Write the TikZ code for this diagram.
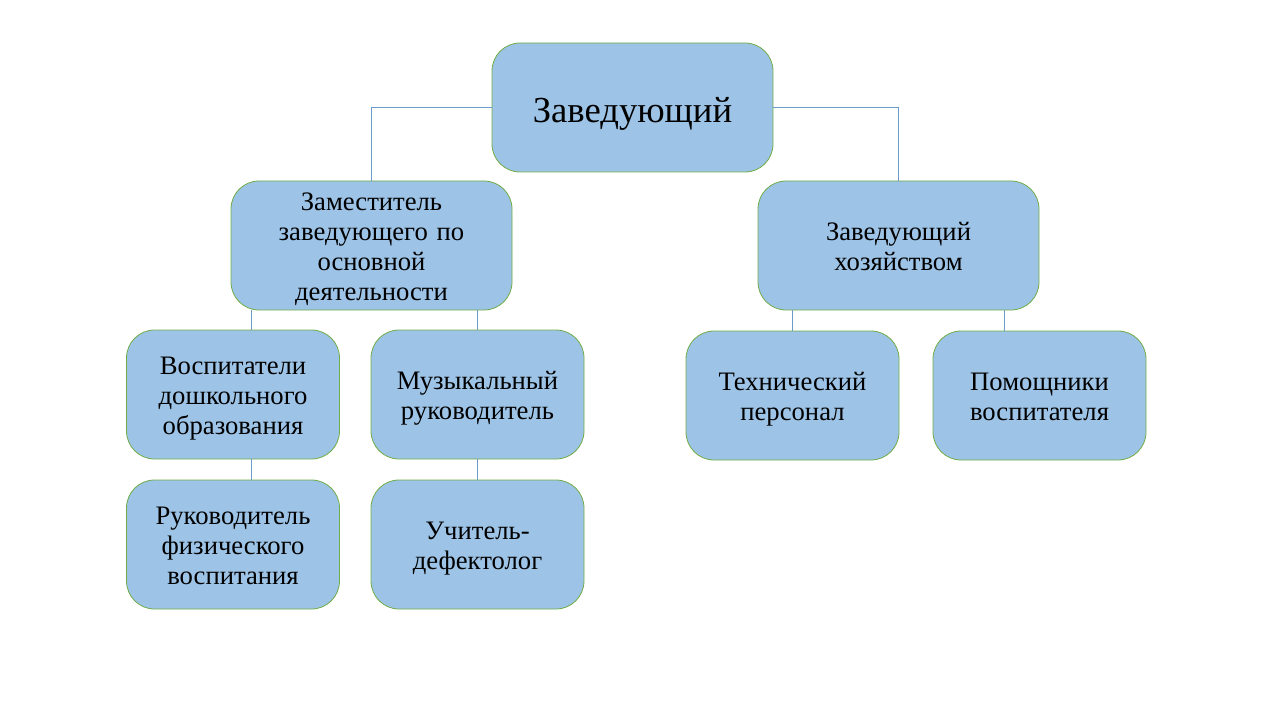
\documentclass[tikz,border=0pt]{standalone}
\usepackage{fontspec}
\setmainfont{Liberation Serif}
\usetikzlibrary{calc}

\definecolor{boxfill}{HTML}{9DC3E6}
\definecolor{boxline}{HTML}{70AD47}
\definecolor{linkline}{HTML}{6A9BCB}

% Одинаковая высота строк в блоках
\newcommand{\lstrut}{\rule[-4.85pt]{0pt}{22.5pt}}
\newcommand{\fstrut}{\rule[-4.85pt]{0pt}{24.4pt}}
\newcommand{\hstrut}{\rule[-6.1pt]{0pt}{35pt}}

\begin{document}
\begin{tikzpicture}[x=0.75pt, y=-0.75pt,
    box/.style={draw=boxline, fill=boxfill, rounded corners=21pt, line width=0.6pt,
        align=center, font=\fontsize{20}{22.5}\selectfont, inner sep=0pt},
    widebox/.style={box, minimum width=210.75pt, minimum height=96.75pt, text width=190pt},
    smallbox/.style={box, minimum width=159.75pt, minimum height=96.75pt, text width=150pt},
    link/.style={draw=linkline, line width=0.6pt}]

    % Поля картинки
    \useasboundingbox (0, 0) rectangle (1280, 720);

    % Верхний уровень
    \node[widebox, font=\fontsize{27.5}{33}\selectfont] (head) at (632.5, 107.5) {Заведующий\hstrut};

    % Второй уровень
    \node[widebox] (deputy) at (371.5, 245.5) {Заместитель\fstrut\\заведующего по\lstrut\\основной\lstrut\\деятельности\lstrut};
    \node[widebox] (house) at (898.5, 245.5) {Заведующий\fstrut\\хозяйством\lstrut};

    % Третий уровень
    \node[smallbox] (tutors) at (233, 394.5) {Воспитатели\fstrut\\дошкольного\lstrut\\образования\lstrut};
    \node[smallbox] (music) at (477.5, 394.5) {Музыкальный\fstrut\\руководитель\lstrut};
    \node[smallbox] (tech) at (792.5, 395.5) {Технический\fstrut\\персонал\lstrut};
    \node[smallbox] (helpers) at (1039.5, 395.5) {Помощники\fstrut\\воспитателя\lstrut};

    % Четвёртый уровень
    \node[smallbox] (sport) at (233, 544.5) {Руководитель\fstrut\\физического\lstrut\\воспитания\lstrut};
    \node[smallbox] (defect) at (477.5, 544.5) {Учитель-\fstrut\\дефектолог\lstrut};

    % Связи
    \draw[link] (head.west) -| (deputy.north);
    \draw[link] (head.east) -| (house.north);
    \draw[link] ([xshift=13.5pt]tutors.north) -- ([xshift=13.5pt]tutors.north |- deputy.south);
    \draw[link] (music.north) -- (music.north |- deputy.south);
    \draw[link] (tech.north) -- (tech.north |- house.south);
    \draw[link] ([xshift=-26.25pt]helpers.north) -- ([xshift=-26.25pt]helpers.north |- house.south);
    \draw[link] ([xshift=13.5pt]sport.north) -- ([xshift=13.5pt]sport.north |- tutors.south);
    \draw[link] (defect.north) -- (defect.north |- music.south);
\end{tikzpicture}
\end{document}
